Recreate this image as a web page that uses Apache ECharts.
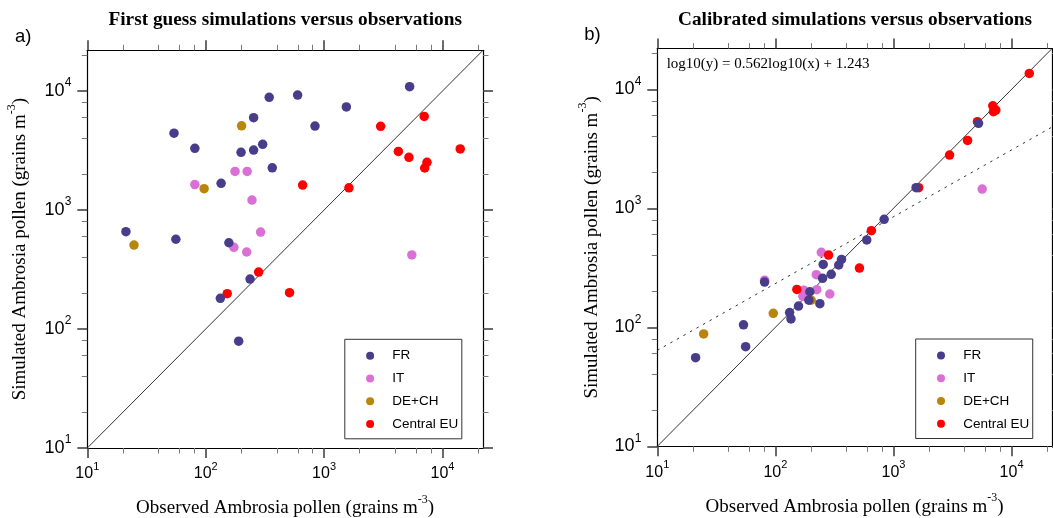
<!DOCTYPE html>
<html>
<head>
<meta charset="utf-8">
<script src="https://cdn.jsdelivr.net/npm/echarts@6/dist/echarts.min.js"></script>
<style>html,body{margin:0;padding:0;background:#fff}#main{width:1053px;height:518px}</style>
</head>
<body>
<div id="main"></div>
<script>
// ambrosia pollen, observed (x) vs simulated (y), grains m-3
var groups = ['FR', 'IT', 'DE+CH', 'Central EU'];
var groupColors = ['#483d8b', '#da70d6', '#b8860b', '#ff0000'];

// a) first guess
var firstFR = [[54,4420],[81,3300],[254,5970],[344,8850],[598,9250],[838,5080],[1542,7350],[5280,10870],[199,3055],[254,3190],[303,3565],[365,2265],[135,1675],[21.2,658],[56,568],[157,531],[237,263],[133,181],[190,79]];
var firstIT = [[81,1635],[177,2110],[224,2110],[246,1213],[291,653],[173,486],[222,444],[5510,419]];
var firstDECH = [[201,5105],[97,1510],[24.8,508]];
var firstEU = [[3006,5050],[7015,6120],[4240,3110],[5210,2775],[7400,2520],[7080,2255],[14130,3260],[659,1622],[1622,1538],[280,301],[152,198],[511,202]];

// b) calibrated
var calFR = [[5250,5180],[1553,1490],[834,809],[594,542],[363,372],[254,338],[344,334],[251,258],[297,279],[81,240],[196,199],[192,169],[157,151],[238,158],[132,133],[135.5,117.5],[53.7,105],[56,68.7],[21.1,55.6]];
var calIT = [[5640,1452],[245,427],[222,277],[81,249],[174,205],[224,207],[289,190.5],[171,182]];
var calDECH = [[96,131],[24.7,88],[201,169]];
var calEU = [[14130,13610],[6935,7280],[7020,6490],[7360,6700],[5140,5350],[4240,3720],[2985,2805],[1633,1490],[650,649],[282,405],[515,315],[152,208]];

var oneToOne = [[10,10],[22000,22000]];
var fitLine = [[10,64],[22000,4820]];   // dotted regression line of panel b
var fitText = 'log10(y) = 0.562log10(x) + 1.243';

var majorTicks = [10, 100, 1000, 10000];
var minorTicks = [20,40,60,80,200,400,600,800,2000,4000,6000,8000,20000];
var axisMin = 10, axisMax = 22000;

var sans = 'Liberation Sans', serif = 'Liberation Serif';

// tick labels: the y ones are drawn a bit wider than the x ones in the original
var xLabelRich = {
  n: {fontFamily: sans, fontSize: 16, lineHeight: 26, color: '#000'},
  s: {fontFamily: sans, fontSize: 11, lineHeight: 11, padding: [0,0,15,0], color: '#000'}
};
var yLabelRich = {
  n: {fontFamily: sans, fontSize: 18, lineHeight: 28, color: '#000'},
  s: {fontFamily: sans, fontSize: 12, lineHeight: 12, padding: [0,0,16,0], color: '#000'}
};
var nameRich = {
  n: {fontFamily: serif, fontSize: 19, lineHeight: 30, color: '#000'},
  s: {fontFamily: serif, fontSize: 12, lineHeight: 12, padding: [0,0,18,0], color: '#000'}
};
function powLabel(v){
  return '{n|10}{s|' + Math.round(Math.log10(v)) + '}';
}

/*
one axis of a panel; major ones draw the frame, minor ones only the short ticks
*/
function makeAxis(g, pos, minor, opts){
  var a = {
    type: 'log', logBase: 10, min: axisMin, max: axisMax,
    gridIndex: g, position: pos, silent: true,
    splitLine: {show: false},
    axisLine: {show: !minor, onZero: false, lineStyle: {color: '#000', width: 1.2}},
    axisTick: {show: true, inside: false, customValues: minor ? minorTicks : majorTicks,
      length: minor ? 5.5 : 10, lineStyle: {color: minor ? '#777' : '#444', width: minor ? 1 : 1.6}},
    axisLabel: {show: false}
  };
  if(opts){
    a.axisLabel = {show: true, customValues: majorTicks, formatter: powLabel, rich: opts.rich, margin: opts.margin};
    a.name = '{n|' + opts.name + ' (grains m}{s|-3}{n|)}';
    a.nameLocation = 'middle';
    a.nameGap = opts.nameGap;
    a.nameMoveOverlap = false;
    a.nameTextStyle = {rich: nameRich};
  }
  return a;
}

var xAxes = [], yAxes = [];
var nameGapY = [51.8, 50.5];
for(var g = 0; g < 2; g++){
  xAxes.push(makeAxis(g, 'bottom', false, {name: 'Observed Ambrosia pollen', nameGap: 45.5, margin: 13, rich: xLabelRich}));
  xAxes.push(makeAxis(g, 'top', false));
  xAxes.push(makeAxis(g, 'bottom', true));
  xAxes.push(makeAxis(g, 'top', true));
  yAxes.push(makeAxis(g, 'left', false, {name: 'Simulated Ambrosia pollen', nameGap: nameGapY[g], margin: 16, rich: yLabelRich}));
  yAxes.push(makeAxis(g, 'right', false));
  yAxes.push(makeAxis(g, 'left', true));
  yAxes.push(makeAxis(g, 'right', true));
}

var series = [];
function addPanel(g, sets){
  series.push({type: 'line', xAxisIndex: g*4, yAxisIndex: g*4, data: oneToOne, symbol: 'none',
    silent: true, z: 1, lineStyle: {color: '#333', width: 1}});
  // drawing order: IT, DE+CH, Central EU, FR on top
  var order = [1, 2, 3, 0];
  for(var k = 0; k < order.length; k++){
    var i = order[k];
    series.push({type: 'scatter', name: groups[i], xAxisIndex: g*4, yAxisIndex: g*4,
      data: sets[i], symbol: 'circle', symbolSize: 9.5, z: 2,
      itemStyle: {color: groupColors[i], opacity: 1}});
  }
}
addPanel(0, [firstFR, firstIT, firstDECH, firstEU]);
addPanel(1, [calFR, calIT, calDECH, calEU]);
series.push({type: 'line', xAxisIndex: 4, yAxisIndex: 4, data: fitLine, symbol: 'none',
  silent: true, z: 1, lineStyle: {color: '#333', width: 1, type: [2.5, 5]}});

function makeLegend(left, top){
  return {
    orient: 'vertical', left: left, top: top, data: groups, icon: 'circle',
    itemWidth: 8, itemHeight: 8, itemGap: 8.8, padding: [9.4, 3.5, 7.7, 21.3],
    borderColor: '#333', borderWidth: 1, backgroundColor: '#fff', selectedMode: false,
    formatter: function(name){ return '{t|' + name + '}'; },
    textStyle: {fontFamily: sans, fontSize: 13.5, lineHeight: 14, color: '#000',
      rich: {t: {fontFamily: sans, fontSize: 13.5, lineHeight: 14, color: '#000', padding: [0, 0, 0, 13.2]}}}
  };
}

var graphics = [
  {type: 'text', x: 15, y: 36.5, style: {text: 'a)', fontFamily: sans, fontSize: 18.5, fill: '#000', verticalAlign: 'middle'}},
  {type: 'text', x: 584.3, y: 35, style: {text: 'b)', fontFamily: sans, fontSize: 18.5, fill: '#000', verticalAlign: 'middle'}},
  {type: 'text', x: 285.2, y: 20, style: {text: 'First guess simulations versus observations', fontFamily: serif, fontWeight: 'bold', fontSize: 19.3, fill: '#000', align: 'center', verticalAlign: 'middle'}},
  {type: 'text', x: 855, y: 20, style: {text: 'Calibrated simulations versus observations', fontFamily: serif, fontWeight: 'bold', fontSize: 19.3, fill: '#000', align: 'center', verticalAlign: 'middle'}},
  {type: 'text', x: 666.7, y: 64.5, style: {text: fitText, fontFamily: serif, fontSize: 15, fill: '#000', verticalAlign: 'middle'}}
];

var myChart = echarts.init(document.getElementById('main'), null, {renderer: 'canvas'});
myChart.setOption({
  animation: false,
  backgroundColor: '#fff',
  grid: [
    {left: 87.3, top: 50.3, width: 395.7, height: 397.7, containLabel: false, outerBoundsMode: 'none'},
    {left: 657.3, top: 48.6, width: 394.7, height: 397.7, containLabel: false, outerBoundsMode: 'none'}
  ],
  xAxis: xAxes,
  yAxis: yAxes,
  legend: [makeLegend(344.8, 339.3), makeLegend(915.7, 339)],
  graphic: graphics,
  series: series
});
</script>
</body>
</html>
